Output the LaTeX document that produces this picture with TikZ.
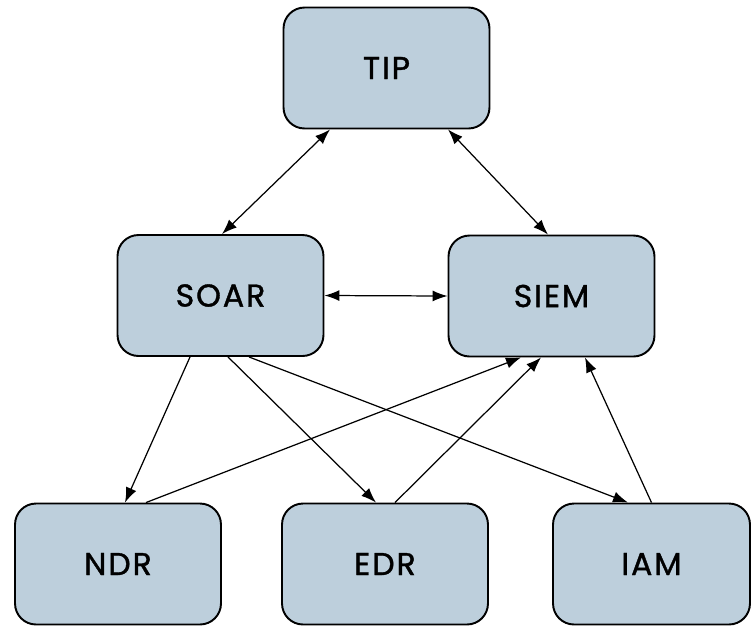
\documentclass[tikz,border=0pt]{standalone}
\usepackage{fontspec}
\setmainfont{Poppins}
\usetikzlibrary{arrows.meta}
\definecolor{boxfill}{RGB}{189,207,220}
\begin{document}
\begin{tikzpicture}[
  x=0.02cm, y=-0.02cm,
  tool/.style={draw=black, line width=1.1pt, fill=boxfill, rounded corners=0.42cm,
    minimum width=4.12cm, minimum height=2.42cm, inner sep=0pt,
    font=\fontsize{18}{20}\selectfont\addfontfeatures{LetterSpace=6,FakeBold=1.2}},
  arr/.style={-{Latex[length=0.3cm,width=0.22cm]}, line width=0.7pt, black},
  both/.style={arr, {Latex[length=0.3cm,width=0.22cm]}-{Latex[length=0.3cm,width=0.22cm]}}
]
\useasboundingbox (0,0) rectangle (751,627);
\node[tool] (tip) at (386.5, 68) {TIP};
\node[tool] (soar) at (220.5, 295.5) {SOAR};
\node[tool] (siem) at (551.5, 296) {SIEM};
\node[tool] (ndr) at (118, 564) {NDR};
\node[tool] (edr) at (385, 564) {EDR};
\node[tool, minimum width=3.94cm] (iam) at (651.5, 564) {IAM};
\draw[both] ([xshift=-1.13cm]tip.south) -- ([xshift=0.03cm]soar.north);
\draw[both] ([xshift=1.23cm]tip.south) -- ([xshift=-0.07cm]siem.north);
\draw[both] (soar.east) -- (siem.west);
\draw[arr] ([xshift=-0.61cm]soar.south) -- ([xshift=0.14cm]ndr.north);
\draw[arr] ([xshift=0.15cm]soar.south) -- ([xshift=-0.18cm]edr.north);
\draw[arr] ([xshift=0.57cm]soar.south) -- ([xshift=-0.47cm]iam.north);
\draw[arr] ([xshift=0.56cm]ndr.north) -- ([xshift=-0.61cm]siem.south);
\draw[arr] ([xshift=0.2cm]edr.north) -- ([xshift=-0.21cm]siem.south);
\draw[arr] (iam.north) -- ([xshift=0.67cm]siem.south);
\end{tikzpicture}
\end{document}
